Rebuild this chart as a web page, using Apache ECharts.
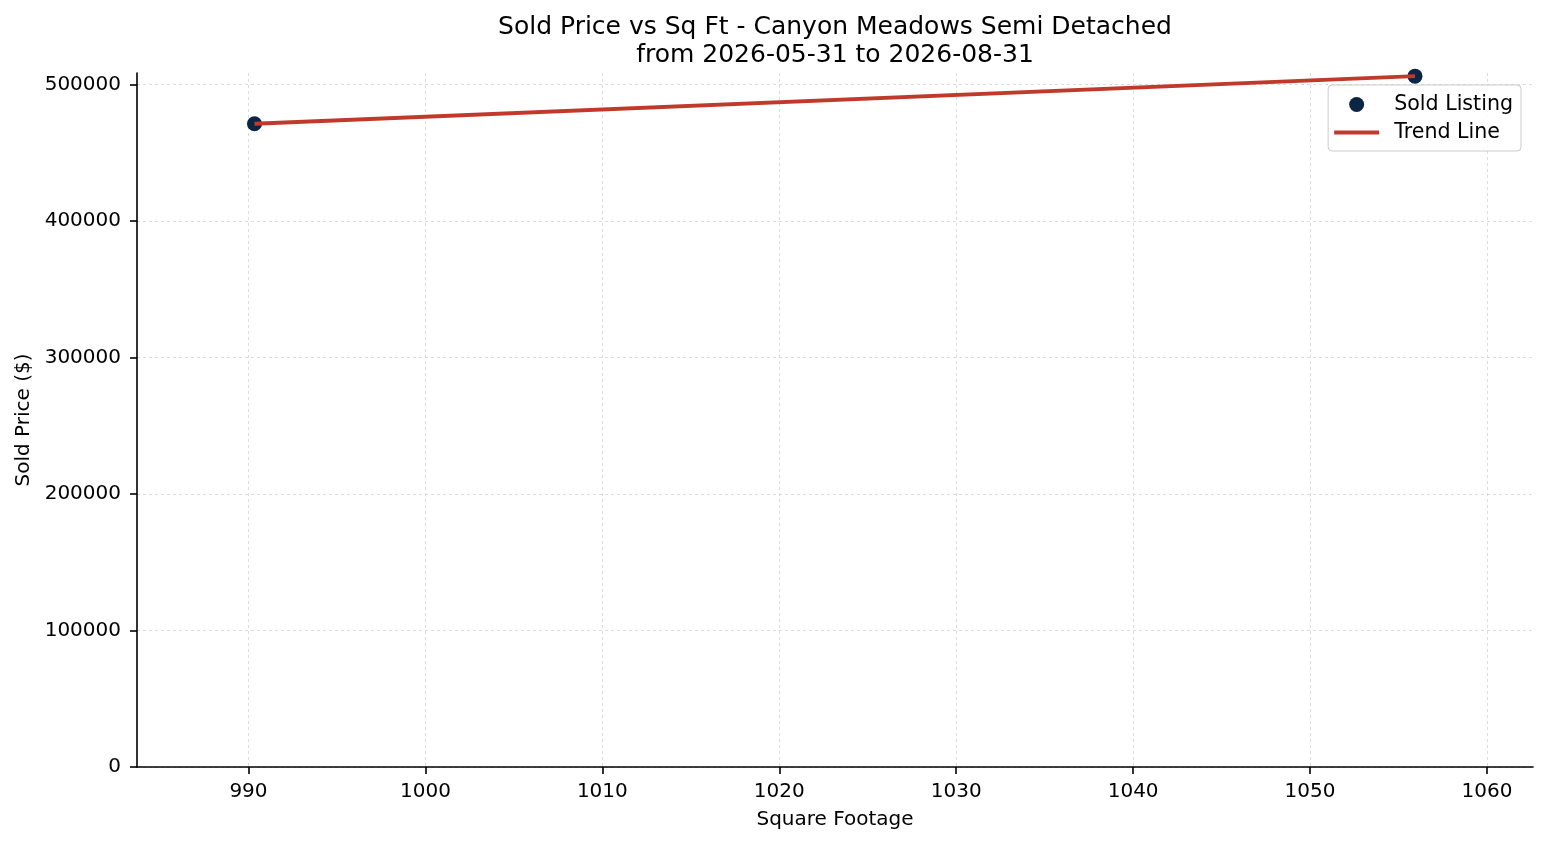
<!DOCTYPE html>
<html>
<head>
<meta charset="utf-8">
<script src="https://cdn.jsdelivr.net/npm/echarts@6/dist/echarts.min.js"></script>
<style>
html,body{margin:0;padding:0;background:#fff;}
#chart{width:1547px;height:845px;}
</style>
</head>
<body>
<div id="chart"></div>
<script>
// Data
const soldSqft = [990.34, 1055.93];
const soldPrice = [471400, 506300];
const trendSqft = [990.34, 1055.93];
const trendPrice = [471400, 506300];
const xTicks = [990, 1000, 1010, 1020, 1030, 1040, 1050, 1060];
const yTicks = [0, 100000, 200000, 300000, 400000, 500000];
const xRange = [983.7, 1062.6];
const yRange = [0, 508600];
const titleText = 'Sold Price vs Sq Ft - Canyon Meadows Semi Detached\nfrom 2026-05-31 to 2026-08-31';

const font = 'DejaVu Sans';
const fs = 20;
const chart = echarts.init(document.getElementById('chart'), null, {renderer: 'canvas'});
const gridLine = {show: true, lineStyle: {color: '#d4d4d4', type: [3, 3], width: 0.8}};
chart.setOption({
  animation: false,
  backgroundColor: '#fff',
  textStyle: {fontFamily: font},
  title: {
    text: titleText,
    left: 830,
    textAlign: 'center',
    top: 8,
    textStyle: {fontFamily: font, fontSize: 25, fontWeight: 'normal', color: '#000', lineHeight: 28}
  },
  legend: {
    orient: 'vertical',
    right: 26,
    top: 85,
    itemWidth: 45,
    itemHeight: 15,
    itemGap: 7,
    padding: [9, 8, 8, 6],
    borderColor: '#cccccc',
    borderWidth: 1,
    borderRadius: 4,
    backgroundColor: 'rgba(255,255,255,0.85)',
    textStyle: {fontFamily: font, fontSize: 20.6, color: '#000', lineHeight: 21, padding: [0, 0, 0, 10]},
    itemStyle: {borderWidth: 0},
    data: [
      {name: 'Sold Listing', icon: 'circle'},
      {name: 'Trend Line', icon: 'path://M0,0 H45 V4 H0 Z'}
    ]
  },
  grid: {left: 137, right: 14, top: 73, bottom: 78, containLabel: false},
  xAxis: {
    type: 'value',
    min: xRange[0],
    max: xRange[1],
    name: 'Square Footage',
    nameLocation: 'middle',
    nameGap: 43,
    nameTextStyle: {fontFamily: font, fontSize: fs, color: '#000'},
    axisLine: {show: true, onZero: false, lineStyle: {color: '#000', width: 1.6}},
    axisTick: {show: true, inside: false, length: 7, customValues: xTicks, lineStyle: {color: '#000', width: 1.6}},
    axisLabel: {customValues: xTicks, margin: 15, fontFamily: font, fontSize: fs, color: '#000', formatter: v => String(v)},
    splitLine: gridLine
  },
  yAxis: {
    type: 'value',
    min: yRange[0],
    max: yRange[1],
    interval: 100000,
    name: 'Sold Price ($)',
    nameLocation: 'middle',
    nameGap: 100,
    nameRotate: 90,
    nameTextStyle: {fontFamily: font, fontSize: fs, color: '#000'},
    axisLine: {show: true, lineStyle: {color: '#000', width: 1.6}},
    axisTick: {show: true, inside: false, length: 7, customValues: yTicks, lineStyle: {color: '#000', width: 1.6}},
    axisLabel: {customValues: yTicks, margin: 16, fontFamily: font, fontSize: fs, color: '#000', formatter: v => String(v)},
    splitLine: gridLine
  },
  series: [
    {
      name: 'Sold Listing',
      type: 'scatter',
      symbol: 'circle',
      symbolSize: 15,
      itemStyle: {color: '#0b2545', opacity: 1},
      data: soldSqft.map((x, i) => [x, soldPrice[i]]),
      z: 2
    },
    {
      name: 'Trend Line',
      type: 'line',
      symbol: 'none',
      showSymbol: false,
      lineStyle: {color: '#c0392b', width: 3.8},
      itemStyle: {color: '#c0392b'},
      data: trendSqft.map((x, i) => [x, trendPrice[i]]),
      z: 3
    }
  ]
});
</script>
</body>
</html>
